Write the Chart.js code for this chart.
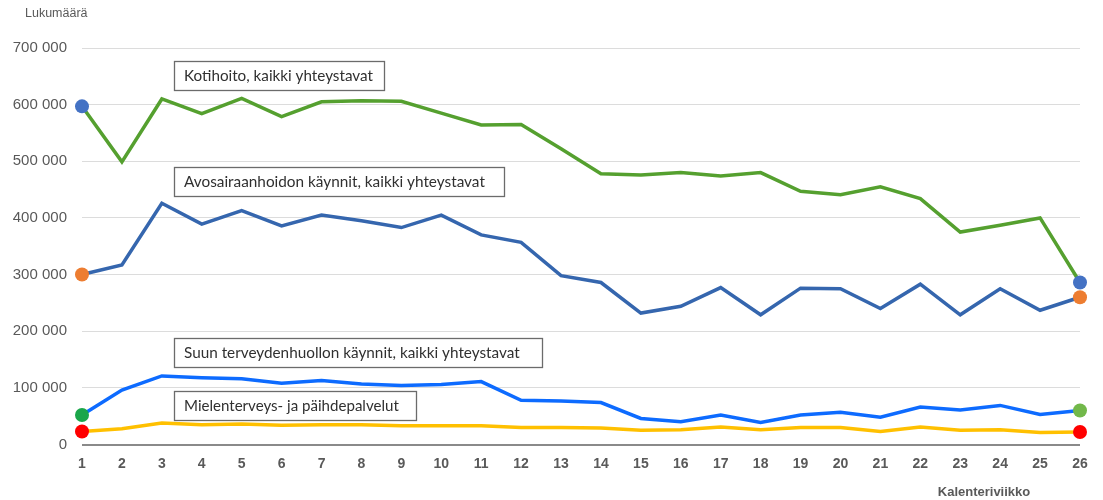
<!DOCTYPE html>
<html>
<head>
<meta charset="utf-8">
<script src="https://cdn.jsdelivr.net/npm/chart.js@4/dist/chart.umd.min.js"></script>
<style>
html,body{margin:0;padding:0;background:#fff;}
#wrap{width:1103px;height:500px;position:relative;}
</style>
</head>
<body>
<div id="wrap"><canvas id="c" width="1103" height="500"></canvas></div>
<script>
const weeks = ['1','2','3','4','5','6','7','8','9','10','11','12','13','14','15','16','17','18','19','20','21','22','23','24','25','26'];
const kotihoito = [597000, 499000, 610000, 584000, 611000, 579000, 605000, 607000, 606000, 585000, 564000, 565000, 522000, 478000, 476000, 480000, 474000, 480000, 447000, 441000, 455000, 434000, 375000, 387000, 400000, 286000];
const avosairaanhoito = [300000, 317000, 426000, 389000, 413000, 386000, 405000, 395000, 383000, 405000, 370000, 357000, 298000, 286000, 232000, 244000, 277000, 229000, 276000, 275000, 240000, 283000, 229000, 275000, 237000, 260000];
const suunTerveydenhuolto = [52000, 96000, 121000, 118000, 116000, 108000, 113000, 107000, 104000, 106000, 111000, 78000, 77000, 74000, 46000, 40000, 52000, 39000, 52000, 57000, 48000, 66000, 61000, 69000, 53000, 60000];
const mielenterveys = [23000, 28000, 38000, 35000, 36000, 34000, 35000, 35000, 33000, 33000, 33000, 30000, 30000, 29000, 25000, 26000, 31000, 26000, 30000, 30000, 23000, 31000, 25000, 26000, 21000, 22000];
const yTicks = [0, 100000, 200000, 300000, 400000, 500000, 600000, 700000];
const seriesNames = ['Kotihoito, kaikki yhteystavat', 'Avosairaanhoidon käynnit, kaikki yhteystavat', 'Suun terveydenhuollon käynnit, kaikki yhteystavat', 'Mielenterveys- ja päihdepalvelut'];

const n = weeks.length;
function endRadius(i){ return (i === 0 || i === n - 1) ? 7 : 0; }
function endColors(first, last){ return weeks.map((_, i) => i === 0 ? first : (i === n - 1 ? last : 'rgba(0,0,0,0)')); }

function ds(label, data, color, firstDot, lastDot){
  return {
    label, data,
    borderColor: color, borderWidth: 3.5, tension: 0, fill: false,
    pointRadius: weeks.map((_, i) => endRadius(i)),
    pointHoverRadius: weeks.map((_, i) => endRadius(i)),
    pointBackgroundColor: endColors(firstDot, lastDot),
    pointBorderColor: endColors(firstDot, lastDot),
    pointBorderWidth: 0,
    clip: false
  };
}

const annotations = [
  {text: seriesNames[0], box: [174, 61, 384, 90], textW: 189},
  {text: seriesNames[1], box: [174, 167, 504, 196], textW: 301},
  {text: seriesNames[2], box: [174, 338, 542, 367], textW: 336},
  {text: seriesNames[3], box: [174, 391, 416, 420], textW: 215}
];

const overlay = {
  id: 'overlay',
  afterDraw(chart){
    const ctx = chart.ctx;
    ctx.save();
    // annotation boxes
    annotations.forEach(a => {
      const [x1, y1, x2, y2] = a.box;
      ctx.fillStyle = '#ffffff';
      ctx.fillRect(x1, y1, x2 - x1, y2 - y1);
      ctx.strokeStyle = '#6b6b6b';
      ctx.lineWidth = 1.3;
      ctx.strokeRect(x1 + 0.5, y1 + 0.5, x2 - x1, y2 - y1);
      ctx.font = '14px Lato';
      const w = ctx.measureText(a.text).width;
      const size = 14 * a.textW / w;
      ctx.font = size.toFixed(2) + 'px Lato';
      ctx.fillStyle = '#303030';
      ctx.textAlign = 'left';
      ctx.textBaseline = 'middle';
      ctx.fillText(a.text, x1 + 10, (y1 + y2) / 2 + 1);
    });
    // axis titles
    ctx.fillStyle = '#595959';
    ctx.font = '12.5px "Liberation Sans", Arial, sans-serif';
    ctx.textAlign = 'left';
    ctx.textBaseline = 'middle';
    ctx.fillText('Lukumäärä', 25, 14);
    ctx.font = 'bold 13px "Liberation Sans", Arial, sans-serif';
    ctx.textAlign = 'center';
    ctx.fillText('Kalenteriviikko', 984, 492);
    ctx.restore();
  }
};

new Chart(document.getElementById('c'), {
  type: 'line',
  data: {
    labels: weeks,
    datasets: [
      ds(seriesNames[0], kotihoito, '#55A02F', '#4472C4', '#4472C4'),
      ds(seriesNames[1], avosairaanhoito, '#3566AE', '#ED7D31', '#ED7D31'),
      ds(seriesNames[2], suunTerveydenhuolto, '#0D6BFF', '#1AA64A', '#72B84A'),
      ds(seriesNames[3], mielenterveys, '#FFC000', '#FF0000', '#FF0000')
    ]
  },
  options: {
    responsive: false,
    animation: false,
    events: [],
    layout: { padding: { top: 48, right: 23, left: 0, bottom: 0 } },
    plugins: { legend: { display: false }, tooltip: { enabled: false } },
    scales: {
      x: {
        type: 'category',
        offset: false,
        grid: { display: false, drawTicks: false },
        border: { display: false },
        ticks: {
          color: '#595959',
          font: { family: '"Liberation Sans", Arial, sans-serif', size: 14, weight: 'bold' },
          padding: 11,
          maxRotation: 0,
          autoSkip: false
        },
        afterFit(scale){ scale.height = 55.5; }
      },
      y: {
        min: 0, max: 700000,
        afterBuildTicks(scale){ scale.ticks = yTicks.map(v => ({value: v})); },
        grid: {
          drawTicks: false,
          color: c => (c.tick && c.tick.value === 0) ? '#8a8a8a' : '#dcdcdc',
          lineWidth: c => (c.tick && c.tick.value === 0) ? 2 : 1
        },
        border: { display: false },
        ticks: {
          color: '#595959',
          font: { family: '"Liberation Sans", Arial, sans-serif', size: 15 },
          padding: 15,
          callback: v => v === 0 ? '0' : String(v).replace(/\B(?=(\d{3})+(?!\d))/g, ' ')
        },
        afterFit(scale){ scale.width = 82; }
      }
    }
  },
  plugins: [overlay]
});
</script>
</body>
</html>
